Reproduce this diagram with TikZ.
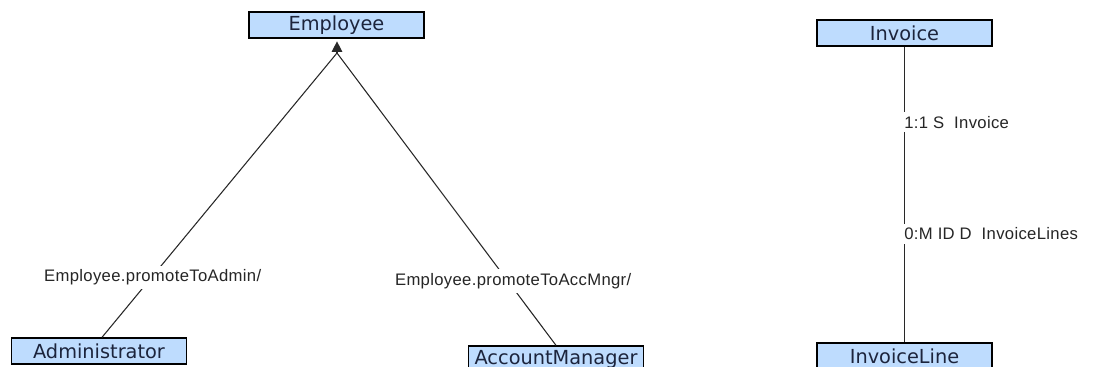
\documentclass[tikz,border=0pt]{standalone}
\usepackage{fontspec}
\usepackage{xcolor}
\usetikzlibrary{arrows.meta,positioning}
\newfontfamily\boxfont{DejaVu Sans}
\newfontfamily\edgefont[LetterSpace=2]{Liberation Sans}
\definecolor{classblue}{RGB}{190,220,254}
\definecolor{classtext}{RGB}{28,36,60}
\definecolor{edgegray}{RGB}{40,40,40}

\begin{document}
\begin{tikzpicture}[x=0.75pt, y=-0.75pt,
    classbox/.style={draw=black, line width=1pt, fill=classblue, text=classtext,
        minimum width=131.25pt, minimum height=19.5pt, inner sep=0pt,
        font=\boxfont\fontsize{14.5}{16}\selectfont},
    link/.style={draw=edgegray, line width=0.8pt},
    lbl/.style={fill=white, inner xsep=1pt, inner ysep=3pt, text=black!85,
        font=\edgefont\fontsize{12.5}{14}\selectfont}]

    \useasboundingbox (0,0) rectangle (1099,367);

    % inheritance tree
    \node[classbox] (emp) at (336.5,25) {Employee};
    \node[classbox] (admin) at (99,351) {Administrator};
    \node[classbox] (accmgr) at (556,359) {AccountManager};
    \coordinate (apex) at (337,53);

    \draw[link] ([xshift=2.25pt]admin.north) -- node[lbl, pos=0.21, xshift=1pt] {Employee.promoteToAdmin/} (apex);
    \draw[link] (accmgr.north) -- node[lbl, pos=0.22, xshift=4pt] {Employee.promoteToAccMngr/} (apex);
    \draw[link, -{Triangle[length=8pt,width=8pt]}, shorten >=2pt] (apex) -- (emp.south -| apex);

    % relationship
    \node[classbox] (inv) at (904.5,33) {Invoice};
    \node[classbox] (invline) at (904.5,356) {InvoiceLine};

    \draw[link] (inv) -- node[lbl, pos=0.256, anchor=west, xshift=-1.5pt] {1:1 S\ \ Invoice}
        node[lbl, pos=0.633, anchor=west, xshift=-1.5pt] {0:M ID D\ \ InvoiceLines} (invline);

\end{tikzpicture}
\end{document}
